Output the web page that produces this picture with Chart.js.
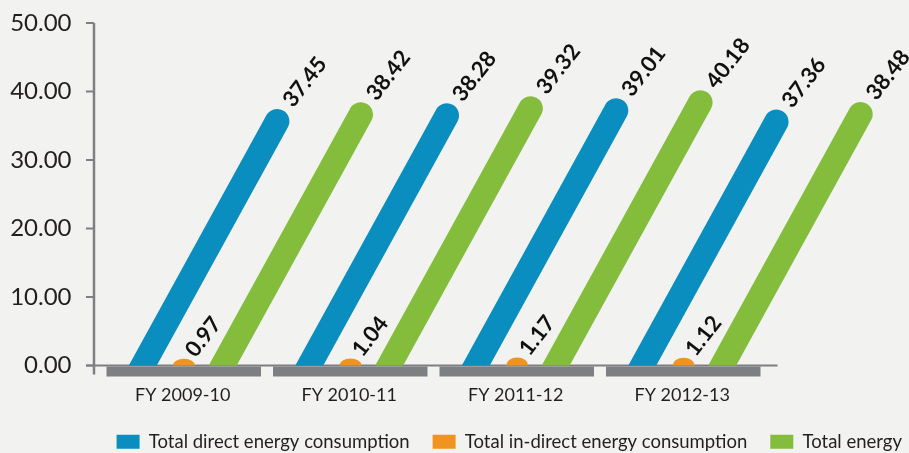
<!DOCTYPE html>
<html>
<head>
<meta charset="utf-8">
<title>Energy consumption</title>
<script src="https://cdn.jsdelivr.net/npm/chart.js@4.4.1/dist/chart.umd.min.js"></script>
<style>
  body { margin: 0; background: #f2f2f1; }
  .chart-box { width: 909px; height: 453px; position: relative; }
</style>
</head>
<body>
<div class="chart-box"><canvas id="energyChart"></canvas></div>
<script>
const years = ['FY 2009-10', 'FY 2010-11', 'FY 2011-12', 'FY 2012-13'];
const directEnergy = [37.45, 38.28, 39.01, 37.36];
const indirectEnergy = [0.97, 1.04, 1.17, 1.12];
const totalEnergy = [38.42, 39.32, 40.18, 38.48];
const yTicks = [0, 10, 20, 30, 40, 50];

const grey = '#7e7f83';
const ink = '#231f20';
const slant = 0.55;          // horizontal lean of the bars per pixel of height
const labelAngle = -52 * Math.PI / 180;

// bars are drawn leaning to the right with a round cap, value written above them
const slantBars = {
  id: 'slantBars',
  beforeDatasetDraw() { return false; },
  afterDatasetsDraw(chart) {
    const ctx = chart.ctx;
    const L = Math.sqrt(1 + slant * slant);
    chart.data.datasets.forEach((ds, i) => {
      const meta = chart.getDatasetMeta(i);
      if (meta.hidden) return;
      meta.data.forEach((bar, j) => {
        const p = bar.getProps(['x', 'y', 'base', 'width'], true);
        const h = p.base - p.y;
        const half = p.width / 2;
        const t = half / L;  // half thickness across the bar
        ctx.save();
        ctx.fillStyle = ds.backgroundColor;
        ctx.beginPath();
        if (h > 2 * t) {
          const ey = p.y + t;
          const ex = p.x + slant * (p.base - ey);
          const aL = Math.atan2(-slant, -1), aR = Math.atan2(slant, 1);
          ctx.moveTo(p.x - half, p.base);
          ctx.lineTo(ex + t * Math.cos(aL), ey + t * Math.sin(aL));
          ctx.arc(ex, ey, t, aL, aR, false);
          ctx.lineTo(p.x + half, p.base);
        } else {
          ctx.ellipse(p.x + slant * h / 3, p.base, half, h, 0, Math.PI, 2 * Math.PI);
        }
        ctx.closePath();
        ctx.fill();
        ctx.restore();

        ctx.save();
        ctx.translate(p.x + slant * h, p.y);
        ctx.rotate(labelAngle);
        ctx.font = 'bold 22px Lato';
        ctx.fillStyle = '#111';
        ctx.textAlign = 'left';
        ctx.textBaseline = 'middle';
        ctx.fillText(ds.data[j].toFixed(2), 6, 0);
        ctx.restore();
      });
    });
  }
};

const axisDeco = {
  id: 'axisDeco',
  afterLayout(chart) {
    const lg = chart.legend;
    lg.right = chart.width + 16;
    lg.top += 8;
    lg.bottom += 8;
  },
  afterDatasetsDraw(chart) {
    const {ctx, chartArea: a, scales: {x, y}} = chart;
    const y0 = y.getPixelForValue(0);
    const axX = a.left - 5.5;
    ctx.save();
    ctx.strokeStyle = grey;
    ctx.lineWidth = 2.5;
    ctx.beginPath();
    ctx.moveTo(axX, y.getPixelForValue(50));
    ctx.lineTo(axX, y0 + 9);
    ctx.stroke();
    ctx.lineWidth = 2;
    yTicks.forEach(v => {
      const py = y.getPixelForValue(v);
      ctx.beginPath();
      ctx.moveTo(axX - 8, py);
      ctx.lineTo(axX, py);
      ctx.stroke();
    });
    ctx.beginPath();
    ctx.moveTo(axX - 8, y0);
    ctx.lineTo(a.right + 12, y0);
    ctx.stroke();
    ctx.fillStyle = grey;
    const cw = x.getPixelForValue(1) - x.getPixelForValue(0);
    years.forEach((_, i) => {
      const cx = x.getPixelForValue(i);
      ctx.fillRect(cx - cw / 2 + 7, y0 + 1, cw - 12, 10);
    });
    ctx.restore();
  }
};

new Chart(document.getElementById('energyChart'), {
  type: 'bar',
  data: {
    labels: years,
    datasets: [
      { label: 'Total direct energy consumption', data: directEnergy, backgroundColor: '#0a8dbf', borderWidth: 0, barPercentage: 0.7 },
      { label: 'Total in-direct energy consumption', data: indirectEnergy, backgroundColor: '#f0931f', borderWidth: 0, barPercentage: 0.55 },
      { label: 'Total energy', data: totalEnergy, backgroundColor: '#84bd3c', borderWidth: 0, barPercentage: 0.7 }
    ]
  },
  options: {
    responsive: true,
    maintainAspectRatio: false,
    animation: false,
    categoryPercentage: 0.72,
    layout: { padding: { top: 23, left: 0, right: 0, bottom: 0 } },
    plugins: {
      tooltip: { enabled: false },
      legend: {
        position: 'bottom',
        align: 'end',
        labels: {
          boxWidth: 23,
          boxHeight: 14,
          padding: 23,
          color: ink,
          font: { family: 'Lato', size: 18.5 }
        }
      }
    },
    scales: {
      x: {
        grid: { display: false },
        border: { display: false },
        ticks: { color: ink, font: { family: 'Lato', size: 18 }, padding: 11, maxRotation: 0 },
        afterFit(s) { s.height = 36; }
      },
      y: {
        min: 0,
        max: 50,
        grid: { display: false, drawTicks: true, tickLength: 28 },
        border: { display: false },
        afterBuildTicks(s) { s.ticks = yTicks.map(v => ({ value: v })); },
        ticks: { color: ink, font: { family: 'Lato', size: 24 }, padding: 0, callback: v => v.toFixed(2) },
        afterFit(s) { s.width = 99.5; }
      },
      pad: {
        type: 'linear',
        position: 'right',
        grid: { display: false },
        border: { display: false },
        ticks: { display: false },
        afterFit(s) { s.width = 143.5; }
      }
    }
  },
  plugins: [axisDeco, slantBars]
});
</script>
</body>
</html>
